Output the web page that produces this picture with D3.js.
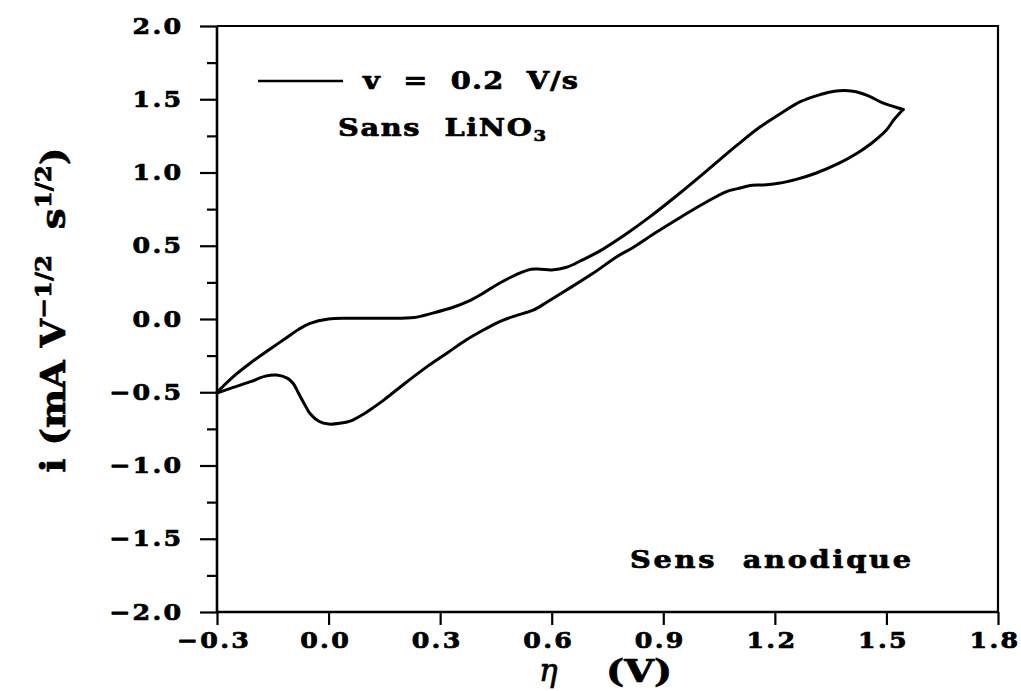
<!DOCTYPE html>
<html>
<head>
<meta charset="utf-8">
<script src="https://cdn.jsdelivr.net/npm/d3@7"></script>
<style>
  html, body { margin: 0; padding: 0; background: #fff; }
  svg { display: block; }
  text { font-family: "DejaVu Serif", serif; font-weight: bold; fill: #000; white-space: pre;
         stroke: #000; stroke-width: 0.7px; stroke-linejoin: round; }
</style>
</head>
<body>
<svg id="chart" width="1021" height="691"></svg>
<script>
// ---- data ----
const xTicks = [-0.3, 0.0, 0.3, 0.6, 0.9, 1.2, 1.5, 1.8];
const yTicks = [-2.0, -1.5, -1.0, -0.5, 0.0, 0.5, 1.0, 1.5, 2.0];
const yMinorTicks = [-1.75, -1.25, -0.75, -0.25, 0.25, 0.75, 1.25, 1.75];

// anodic (upper) branch: potential eta (V) and current i
const anodicEta = [-0.30, -0.25, -0.21, -0.16, -0.12, -0.08, -0.05, 0.00, 0.05, 0.10, 0.15, 0.23, 0.28, 0.335, 0.375, 0.415, 0.45, 0.49, 0.52, 0.545, 0.57, 0.60, 0.64, 0.68, 0.73, 0.80, 0.86, 0.94, 1.03, 1.10, 1.16, 1.22, 1.27, 1.32, 1.36, 1.41, 1.45, 1.49, 1.52, 1.545];
const anodicI   = [-0.50, -0.38, -0.30, -0.21, -0.14, -0.07, -0.03, 0.00, 0.005, 0.005, 0.005, 0.01, 0.04, 0.08, 0.12, 0.175, 0.23, 0.285, 0.32, 0.34, 0.34, 0.335, 0.353, 0.40, 0.465, 0.58, 0.69, 0.85, 1.04, 1.19, 1.31, 1.41, 1.485, 1.53, 1.555, 1.555, 1.525, 1.475, 1.45, 1.43];

// return (lower) branch
const returnEta = [1.545, 1.52, 1.50, 1.46, 1.42, 1.37, 1.31, 1.26, 1.21, 1.17, 1.14, 1.10, 1.07, 1.01, 0.95, 0.88, 0.82, 0.775, 0.71, 0.64, 0.59, 0.55, 0.50, 0.46, 0.42, 0.37, 0.32, 0.265, 0.21, 0.15, 0.12, 0.09, 0.06, 0.03, 0.00, -0.025, -0.05, -0.065, -0.08, -0.095, -0.11, -0.14, -0.17, -0.21, -0.26, -0.30];
const returnI   = [1.43, 1.36, 1.29, 1.20, 1.13, 1.06, 0.995, 0.955, 0.926, 0.915, 0.913, 0.89, 0.87, 0.79, 0.70, 0.59, 0.49, 0.425, 0.31, 0.198, 0.12, 0.06, 0.02, -0.018, -0.07, -0.143, -0.23, -0.325, -0.43, -0.55, -0.605, -0.655, -0.695, -0.712, -0.717, -0.70, -0.645, -0.58, -0.51, -0.44, -0.405, -0.382, -0.39, -0.428, -0.47, -0.505];

const legendLabel = "v  =  0.2  V/s";
const noteLabel = "Sans  LiNO";
const noteSub = "3";
const directionLabel = "Sens  anodique";

// ---- layout ----
const svg = d3.select("#chart");
const mLeft = 217, mRight = 998, mTop = 26, mBottom = 612;
const SX = 1.15;   // horizontal stretch of the wide plotting font

const x = d3.scaleLinear().domain([-0.3, 1.8]).range([mLeft, mRight]);
const y = d3.scaleLinear().domain([-2.0, 2.0]).range([mBottom, mTop]);

const fmt = v => (v < 0 ? "\u2212" : "") + Math.abs(v).toFixed(1);

// frame (top + right)
svg.append("path")
  .attr("d", `M${mLeft},${mTop}H${mRight}V${mBottom}`)
  .attr("fill", "none").attr("stroke", "#000").attr("stroke-width", 2.2);

// x axis
const xAxis = d3.axisBottom(x).tickValues(xTicks).tickSize(13).tickPadding(7).tickFormat(fmt);
const gx = svg.append("g").attr("transform", `translate(0,${mBottom})`).call(xAxis);
gx.select(".domain").attr("stroke-width", 2.6).attr("d", `M${mLeft},0H${mRight}`);
gx.selectAll(".tick line").attr("stroke-width", 2.2);
gx.selectAll(".tick text")
  .style("font-family", "'DejaVu Serif', serif")
  .style("font-size", "22px").style("font-weight", "bold")
  .attr("letter-spacing", "2px").attr("dx", (-3.5 / SX) + "px")
  .attr("transform", `scale(${SX},1)`);

// y axis minor ticks
const yMinor = d3.axisLeft(y).tickValues(yMinorTicks).tickSize(10).tickFormat("");
const gym = svg.append("g").attr("transform", `translate(${mLeft},0)`).call(yMinor);
gym.select(".domain").remove();
gym.selectAll(".tick line").attr("stroke-width", 2.2);

// y axis major
const yAxis = d3.axisLeft(y).tickValues(yTicks).tickSize(17).tickPadding(18).tickFormat(fmt);
const gy = svg.append("g").attr("transform", `translate(${mLeft},0)`).call(yAxis);
gy.select(".domain").attr("stroke-width", 2.6).attr("d", `M0,${mTop}V${mBottom}`);
gy.selectAll(".tick line").attr("stroke-width", 2.2);
gy.selectAll(".tick text")
  .style("font-family", "'DejaVu Serif', serif")
  .style("font-size", "22px").style("font-weight", "bold")
  .attr("letter-spacing", "2px")
  .attr("x", -33.5 / SX)
  .attr("transform", `scale(${SX},1)`);

// curve
const line = d3.line().x(d => x(d[0])).y(d => y(d[1])).curve(d3.curveCatmullRom.alpha(0.5));
const anodic = anodicEta.map((v, i) => [v, anodicI[i]]);
const ret = returnEta.map((v, i) => [v, returnI[i]]);
[anodic, ret].forEach(data => {
  svg.append("path").datum(data).attr("d", line)
    .attr("fill", "none").attr("stroke", "#000").attr("stroke-width", 3)
    .attr("stroke-linejoin", "round").attr("stroke-linecap", "round");
});

// stretched text helper
function stretched(px, py, sx) {
  return svg.append("g").attr("transform", `translate(${px},${py}) scale(${sx},1)`)
    .append("text").attr("x", 0).attr("y", 0);
}

// legend
svg.append("line").attr("x1", 258).attr("x2", 343).attr("y1", 81).attr("y2", 81)
  .attr("stroke", "#000").attr("stroke-width", 2.4);
stretched(363, 89, 1.2).style("font-size", "24px")
  .attr("textLength", 215 / 1.2).attr("lengthAdjust", "spacing")
  .text(legendLabel);

const t2 = stretched(338, 136, 1.2).style("font-size", "24px")
  .attr("textLength", 208 / 1.2).attr("lengthAdjust", "spacing");
t2.append("tspan").text(noteLabel);
t2.append("tspan").attr("dy", 5).style("font-size", "15px").text(noteSub);

stretched(630, 568, 1.2).style("font-size", "24px")
  .attr("textLength", 281 / 1.2).attr("lengthAdjust", "spacing")
  .text(directionLabel);

// x axis title
svg.append("text").attr("x", 539).attr("y", 681)
  .style("font-size", "31px").style("font-style", "italic").style("font-weight", "normal")
  .text("\u03b7");
stretched(606, 682, 1.2).style("font-size", "32px").text("(V)");

// y axis title
const yt = svg.append("g")
  .attr("transform", "translate(65,310) rotate(-90) scale(1.12,1)")
  .append("text").attr("text-anchor", "middle").style("font-size", "33px");
yt.append("tspan").text("i (mA V");
yt.append("tspan").attr("dy", -14).style("font-size", "22px").text("\u22121/2");
yt.append("tspan").attr("dy", 14).text("  s");
yt.append("tspan").attr("dy", -14).style("font-size", "22px").text("1/2");
yt.append("tspan").attr("dy", 14).text(")");
</script>
</body>
</html>
